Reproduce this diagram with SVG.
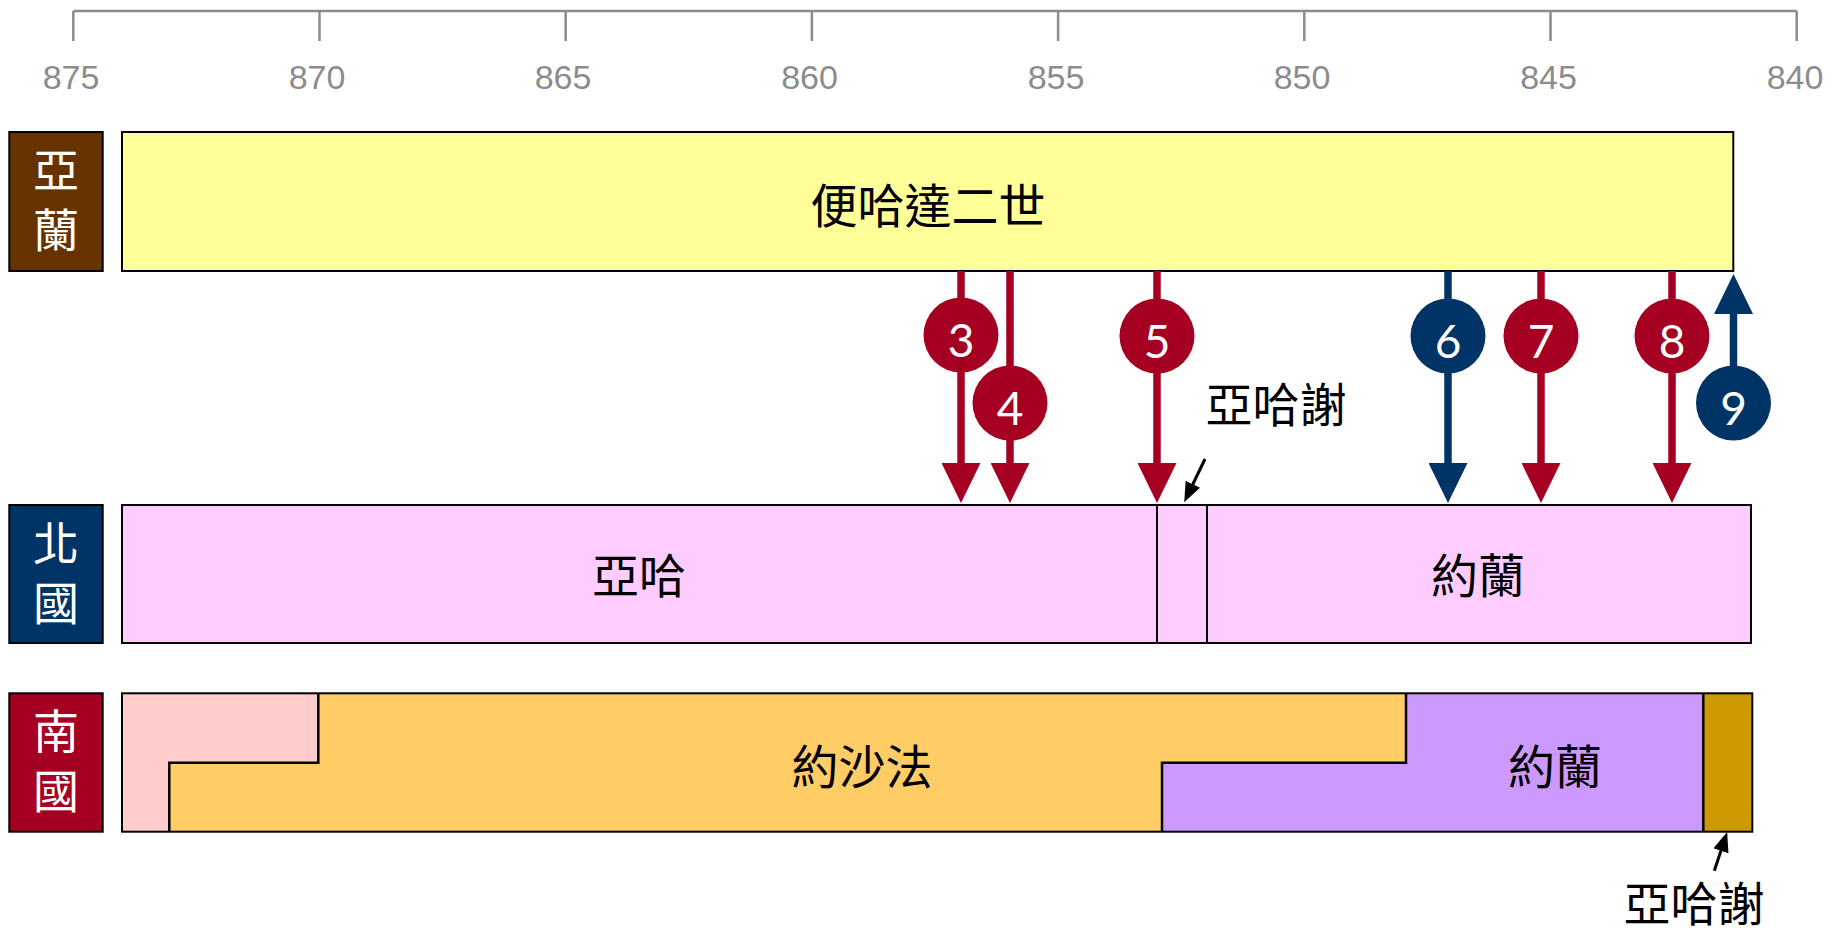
<svg xmlns="http://www.w3.org/2000/svg" width="1837" height="932" viewBox="0 0 1837 932">
<style>
  .axis { stroke: #8c8c8c; stroke-width: 2.5; fill: none; }
  .year { font-family: "Liberation Sans", Arial, sans-serif; font-size: 34px; fill: #8c8c8c; text-anchor: middle; }
  .box { stroke: #000; stroke-width: 2; }
  .edge { stroke: #000; stroke-width: 2.5; fill: none; }
  .cjk { font-family: "Noto Sans CJK TC", "Noto Sans CJK SC", sans-serif; text-anchor: middle; }
  .lbl { font-size: 47px; fill: #000; }
  .side { font-size: 46px; fill: #fff; }
  .num { font-family: Lato, "Open Sans", sans-serif; font-size: 46px; fill: #fff; text-anchor: middle; }
  .red { stroke: #A50021; stroke-width: 7.5; fill: none; }
  .blue { stroke: #003366; stroke-width: 7.5; fill: none; }
  .thin { stroke: #000; stroke-width: 3; fill: none; }
</style>
<defs>
  <marker id="hr" viewBox="0 0 40 39" refX="2" refY="19.5" markerWidth="40" markerHeight="39" markerUnits="userSpaceOnUse" orient="auto">
    <path d="M0,0 L40,19.5 L0,39 z" fill="#A50021"/>
  </marker>
  <marker id="hb" viewBox="0 0 40 39" refX="2" refY="19.5" markerWidth="40" markerHeight="39" markerUnits="userSpaceOnUse" orient="auto">
    <path d="M0,0 L40,19.5 L0,39 z" fill="#003366"/>
  </marker>
  <marker id="hk" viewBox="0 0 20 16" refX="2" refY="8" markerWidth="20" markerHeight="16" markerUnits="userSpaceOnUse" orient="auto">
    <path d="M0,0 L20,8 L0,16 z" fill="#000"/>
  </marker>
</defs>

<g id="axis">
  <path class="axis" d="M73.3,11 H1796.7 M73.3,11 V41 M319.5,11 V41 M565.7,11 V41 M811.9,11 V41 M1058.1,11 V41 M1304.3,11 V41 M1550.5,11 V41 M1796.7,11 V41"/>
  <text class="year" x="71" y="89">875</text>
  <text class="year" x="317" y="89">870</text>
  <text class="year" x="563" y="89">865</text>
  <text class="year" x="809.5" y="89">860</text>
  <text class="year" x="1056" y="89">855</text>
  <text class="year" x="1302" y="89">850</text>
  <text class="year" x="1548.5" y="89">845</text>
  <text class="year" x="1795" y="89">840</text>
</g>

<g id="label-aram">
  <rect class="box" x="9.3" y="132" width="93.4" height="139" fill="#663300"/>
  <text class="cjk side" x="56" y="187">亞</text>
  <text class="cjk side" x="56" y="247">蘭</text>
</g>
<g id="label-north">
  <rect class="box" x="9.3" y="505" width="93.4" height="138" fill="#003366"/>
  <text class="cjk side" x="56" y="559.5">北</text>
  <text class="cjk side" x="56" y="619.5">國</text>
</g>
<g id="label-south">
  <rect class="box" x="9.3" y="693.3" width="93.4" height="138.4" fill="#A50021"/>
  <text class="cjk side" x="56" y="747.5">南</text>
  <text class="cjk side" x="56" y="807.5">國</text>
</g>

<g id="ben-hadad">
  <rect class="box" x="122" y="132" width="1611.3" height="139" fill="#FFFF99"/>
  <text class="cjk lbl" x="928" y="223">便哈達二世</text>
</g>

<g id="north-ahab">
  <rect class="box" x="122" y="505" width="1035" height="138" fill="#FFCCFF"/>
  <text class="cjk lbl" x="639" y="593">亞哈</text>
</g>
<g id="north-ahaziah">
  <rect class="box" x="1157" y="505" width="50" height="138" fill="#FFCCFF"/>
</g>
<g id="north-joram">
  <rect class="box" x="1207" y="505" width="544" height="138" fill="#FFCCFF"/>
  <text class="cjk lbl" x="1478" y="593">約蘭</text>
</g>

<g id="south">
  <polygon points="122,693.3 318.3,693.3 318.3,762.7 169.3,762.7 169.3,831.7 122,831.7" fill="#FFCCCC"/>
  <polygon points="318.3,693.3 1406,693.3 1406,762.7 1162,762.7 1162,831.7 169.3,831.7 169.3,762.7 318.3,762.7" fill="#FFCC66"/>
  <polygon points="1406,693.3 1703.3,693.3 1703.3,831.7 1162,831.7 1162,762.7 1406,762.7" fill="#CC99FF"/>
  <rect x="1703.3" y="693.3" width="49" height="138.4" fill="#CC9900"/>
  <path class="edge" d="M318.3,693.3 V762.7 H169.3 V831.7 M1406,693.3 V762.7 H1162 V831.7 M1703.3,693.3 V831.7"/>
  <rect class="box" x="122" y="693.3" width="1630.3" height="138.4" fill="none"/>
  <text class="cjk lbl" x="862" y="784">約沙法</text>
  <text class="cjk lbl" x="1555" y="784">約蘭</text>
</g>

<g id="connectors">
  <line class="red" x1="961" y1="271" x2="961" y2="465" marker-end="url(#hr)"/>
  <line class="red" x1="1010" y1="271" x2="1010" y2="465" marker-end="url(#hr)"/>
  <line class="red" x1="1157" y1="271" x2="1157" y2="465" marker-end="url(#hr)"/>
  <line class="blue" x1="1448" y1="271" x2="1448" y2="465" marker-end="url(#hb)"/>
  <line class="red" x1="1541" y1="271" x2="1541" y2="465" marker-end="url(#hr)"/>
  <line class="red" x1="1672" y1="271" x2="1672" y2="465" marker-end="url(#hr)"/>
  <line class="blue" x1="1733.5" y1="403" x2="1733.5" y2="312" marker-end="url(#hb)"/>
  <line class="thin" x1="1205" y1="459" x2="1192" y2="486" marker-end="url(#hk)"/>
  <line class="thin" x1="1714.3" y1="870.7" x2="1721.5" y2="849" marker-end="url(#hk)"/>
</g>

<g id="badge-3"><circle cx="961" cy="335" r="37.5" fill="#A50021"/><text class="num" x="961" y="357">3</text></g>
<g id="badge-4"><circle cx="1010" cy="403" r="37.5" fill="#A50021"/><text class="num" x="1010" y="425">4</text></g>
<g id="badge-5"><circle cx="1157" cy="336" r="37.5" fill="#A50021"/><text class="num" x="1157" y="358">5</text></g>
<g id="badge-6"><circle cx="1448" cy="336" r="37.5" fill="#003366"/><text class="num" x="1448" y="358">6</text></g>
<g id="badge-7"><circle cx="1541" cy="336" r="37.5" fill="#A50021"/><text class="num" x="1541" y="358">7</text></g>
<g id="badge-8"><circle cx="1672" cy="336" r="37.5" fill="#A50021"/><text class="num" x="1672" y="358">8</text></g>
<g id="badge-9"><circle cx="1733.5" cy="403" r="37.5" fill="#003366"/><text class="num" x="1733.5" y="425">9</text></g>

<g id="note-north-ahaziah">
  <text class="cjk lbl" x="1276" y="422">亞哈謝</text>
</g>
<g id="note-south-ahaziah">
  <text class="cjk lbl" x="1694" y="921">亞哈謝</text>
</g>
</svg>
